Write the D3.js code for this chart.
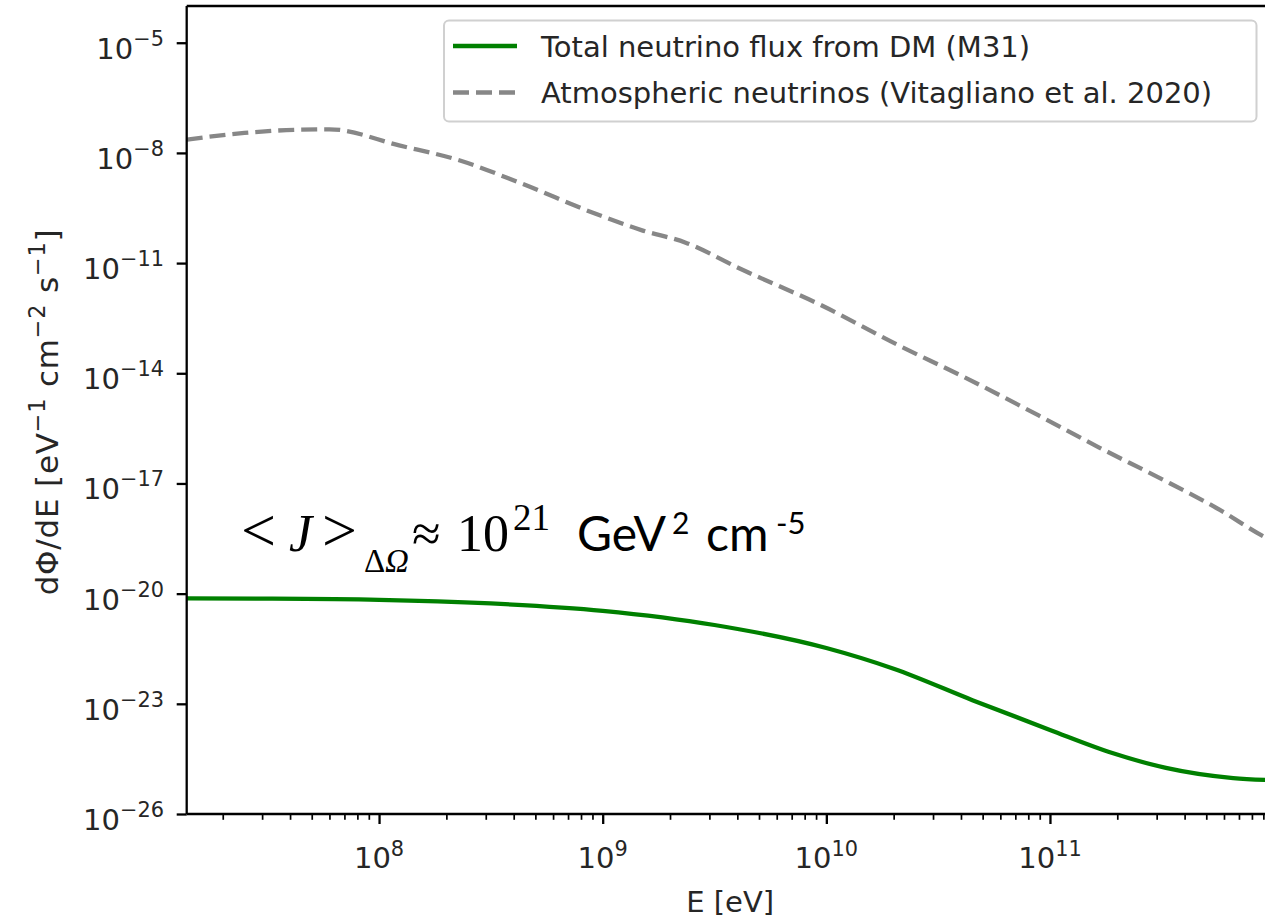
<!DOCTYPE html>
<html><head><meta charset="utf-8">
<script src="https://cdn.jsdelivr.net/npm/d3@7"></script>
<style>body{margin:0;background:#fff;} svg{display:block;}</style>
</head><body>
<svg id="chart" width="1265" height="924"></svg>
<script>
// ---- data ----
const atmoEnergy = [1.38e7, 2.5e7, 4.4e7, 6.0e7, 1.23e8, 2.3e8, 4.3e8, 9.3e8, 1.5e9, 2.35e9, 4.1e9, 9.5e9, 2.1e10, 4.0e10, 8.9e10, 1.66e11, 3.1e11, 5.75e11, 9.1e11, 1e12];
const atmoFlux   = [2.3e-8, 3.5e-8, 4.3e-8, 4.4e-8, 1.6e-8, 6.2e-9, 1.5e-9, 2.2e-10, 7.8e-11, 3.6e-11, 7.1e-12, 7.1e-13, 5.8e-14, 8.7e-15, 7.1e-16, 9.5e-17, 1.4e-17, 1.9e-18, 3.5e-19, 2.6e-19];
const dmEnergy = [1.38e7, 3e7, 1e8, 3.16e8, 1e9, 3.16e9, 1e10, 2e10, 4.5e10, 1e11, 1.9e11, 3.3e11, 6.6e11, 1e12];
const dmFlux   = [7.4e-21, 7.3e-21, 6.8e-21, 5.4e-21, 3.4e-21, 1.4e-21, 3.3e-22, 9e-23, 1.26e-23, 1.95e-24, 4.6e-25, 1.8e-25, 9.5e-26, 8.3e-26];
const xMajorExps = [8, 9, 10, 11];
const yMajorExps = [-26, -23, -20, -17, -14, -11, -8, -5];
const legendLabels = ["Total neutrino flux from DM (M31)", "Atmospheric neutrinos (Vitagliano et al. 2020)"];
const xLabel = "E [eV]";

// ---- layout ----
const svg = d3.select("#chart");
const L = 186.7, R = 1273.6, T = 6, B = 814;
const FONT = "DejaVu Sans, Verdana, sans-serif";
const FS = 29;
const x = d3.scaleLog().domain([1.38e7, 1e12]).range([L, R]);
const y = d3.scaleLog().domain([1e-26, 1e-4]).range([B, T]);

svg.append("rect").attr("width", 1265).attr("height", 924).attr("fill", "#fff");

svg.append("defs").append("clipPath").attr("id", "plotclip")
  .append("rect").attr("x", L).attr("y", T).attr("width", R - L).attr("height", B - T);

const plot = svg.append("g").attr("clip-path", "url(#plotclip)");
const line = d3.line().x(d => x(d[0])).y(d => y(d[1])).curve(d3.curveMonotoneX);

plot.append("path").datum(d3.zip(atmoEnergy, atmoFlux))
  .attr("d", line).attr("fill", "none").attr("stroke", "#878787")
  .attr("stroke-width", 4.3).attr("stroke-dasharray", "16,7");
plot.append("path").datum(d3.zip(dmEnergy, dmFlux))
  .attr("d", line).attr("fill", "none").attr("stroke", "#008000")
  .attr("stroke-width", 4.3);

// ---- axes ----
const xMajors = xMajorExps.map(e => Math.pow(10, e));
const xMinors = [];
for (let e = 7; e <= 11; e++) for (let m = 2; m <= 9; m++) {
  const v = m * Math.pow(10, e);
  if (v >= x.domain()[0] && v <= x.domain()[1]) xMinors.push(v);
}
const xAxisMinor = svg.append("g").attr("transform", `translate(0,${B})`)
  .call(d3.axisBottom(x).tickValues(xMinors).tickSize(5.8).tickFormat(""));
xAxisMinor.select(".domain").remove();
xAxisMinor.selectAll("line").attr("stroke", "#000").attr("stroke-width", 1.7);

const xAxis = svg.append("g").attr("transform", `translate(0,${B})`)
  .call(d3.axisBottom(x).tickValues(xMajors).tickSize(10).tickFormat(""));
xAxis.select(".domain").remove();
xAxis.selectAll("line").attr("stroke", "#000").attr("stroke-width", 2.3);

xMajorExps.forEach(e => {
  const t = svg.append("text").attr("x", x(Math.pow(10, e))).attr("y", 868)
    .attr("text-anchor", "middle").attr("font-family", FONT).attr("font-size", FS).attr("fill", "#262626");
  t.append("tspan").text("10");
  t.append("tspan").attr("dy", -12).attr("font-size", FS * 0.72).text(String(e));
});

const yMajors = yMajorExps.map(e => Math.pow(10, e));
const yAxis = svg.append("g").attr("transform", `translate(${L},0)`)
  .call(d3.axisLeft(y).tickValues(yMajors).tickSize(10).tickFormat(""));
yAxis.select(".domain").remove();
yAxis.selectAll("line").attr("stroke", "#000").attr("stroke-width", 2.3);

yMajorExps.forEach(e => {
  const t = svg.append("text").attr("x", 164).attr("y", y(Math.pow(10, e)) + 16)
    .attr("text-anchor", "end").attr("font-family", FONT).attr("font-size", FS).attr("fill", "#262626");
  t.append("tspan").text("10");
  t.append("tspan").attr("dy", -13).attr("font-size", FS * 0.72).text("\u2212" + Math.abs(e));
});

// spines
const sp = svg.append("g").attr("stroke", "#000").attr("stroke-width", 2.3);
sp.append("line").attr("x1", L).attr("x2", L).attr("y1", T).attr("y2", B);
sp.append("line").attr("x1", L).attr("x2", R).attr("y1", B).attr("y2", B);
sp.append("line").attr("x1", L).attr("x2", R).attr("y1", T).attr("y2", T);
sp.append("line").attr("x1", R).attr("x2", R).attr("y1", T).attr("y2", B);

// axis labels
svg.append("text").attr("x", (L + R) / 2).attr("y", 912).attr("text-anchor", "middle")
  .attr("font-family", FONT).attr("font-size", FS).attr("fill", "#262626").text(xLabel);

const YFS = 31;
const yl = svg.append("text").attr("transform", `translate(58,412) rotate(-90)`)
  .attr("text-anchor", "middle").attr("font-family", FONT).attr("font-size", YFS)
  .attr("letter-spacing", 0.8).attr("fill", "#262626");
yl.append("tspan").text("d\u03A6/dE [eV");
yl.append("tspan").attr("dy", -13).attr("font-size", YFS * 0.72).text("\u22121");
yl.append("tspan").attr("dy", 13).text(" cm");
yl.append("tspan").attr("dy", -13).attr("font-size", YFS * 0.72).text("\u22122");
yl.append("tspan").attr("dy", 13).text(" s");
yl.append("tspan").attr("dy", -13).attr("font-size", YFS * 0.72).text("\u22121");
yl.append("tspan").attr("dy", 13).text("]");

// legend
const lg = svg.append("g");
lg.append("rect").attr("x", 444).attr("y", 20.5).attr("width", 812.5).attr("height", 101)
  .attr("rx", 5).attr("fill", "#fff").attr("fill-opacity", 0.8).attr("stroke", "#d0d0d0").attr("stroke-width", 2);
const rows = [{c: "#008000", dash: null, yy: 46}, {c: "#878787", dash: "16,7", yy: 92.5}];
rows.forEach((r, i) => {
  const ln = lg.append("line").attr("x1", 453).attr("x2", 517).attr("y1", r.yy).attr("y2", r.yy)
    .attr("stroke", r.c).attr("stroke-width", 4.3);
  if (r.dash) ln.attr("stroke-dasharray", r.dash);
  lg.append("text").attr("x", 541).attr("y", r.yy + 10.5).attr("font-family", FONT)
    .attr("font-size", FS).attr("fill", "#262626").text(legendLabels[i]);
});

// annotation
const ann = svg.append("g").attr("fill", "#000");
const SERIF = "Liberation Serif, DejaVu Serif, serif";
const SANS = "Lato, Open Sans, sans-serif";
const base = 551;
const parts = [
  {t: "<", x: 241, f: SERIF, s: 62, y: 0},
  {t: "J", x: 289, f: SERIF, s: 52, y: 0, it: true},
  {t: ">", x: 322, f: SERIF, s: 62, y: 0},
  {t: "\u0394", x: 364, f: SERIF, s: 33, y: 21},
  {t: "\u03A9", x: 385, f: SERIF, s: 33, y: 21, it: true},
  {t: "\u2248", x: 412, f: SERIF, s: 52, y: 0},
  {t: "10", x: 457, f: SERIF, s: 52, y: 0},
  {t: "21", x: 513, f: SERIF, s: 37, y: -21},
  {t: "GeV", x: 577, f: SANS, s: 48, y: 0},
  {t: "2", x: 672, f: SANS, s: 30, y: -17},
  {t: "cm", x: 706, f: SANS, s: 48, y: 0},
  {t: "-5", x: 776, f: SANS, s: 31, y: -17}
];
parts.forEach(p => {
  const t = ann.append("text").attr("x", p.x).attr("y", base + p.y)
    .attr("font-family", p.f).attr("font-size", p.s).text(p.t);
  if (p.it) t.attr("font-style", "italic");
});
</script>
</body></html>
